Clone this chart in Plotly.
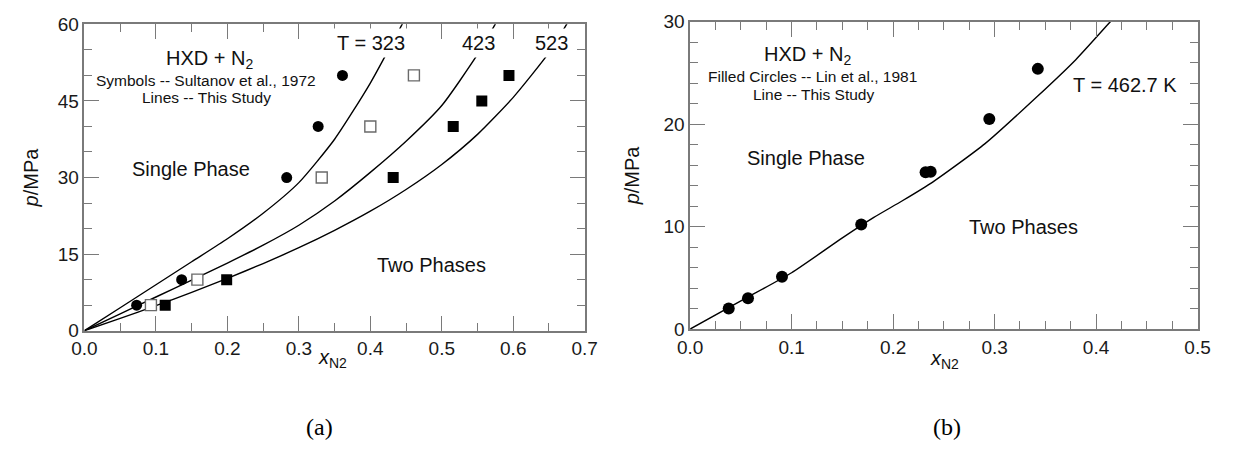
import plotly.graph_objects as go

# ---------------- data: panel (a) ----------------
# experimental points (Sultanov et al., 1972)
a_x323 = [0.073, 0.136, 0.283, 0.327, 0.361]
a_p323 = [5, 10, 30, 40, 50]
a_x423 = [0.093, 0.158, 0.332, 0.400, 0.461]
a_p423 = [5, 10, 30, 40, 50]
a_x523 = [0.113, 0.199, 0.432, 0.516, 0.556, 0.594]
a_p523 = [5, 10, 30, 40, 45, 50]

# model curves (This Study)
c323_x = [0, 0.05, 0.10, 0.15, 0.20, 0.25, 0.30, 0.35, 0.40, 0.45, 0.46]
c323_p = [0, 4.5, 9.0, 13.5, 18.0, 23.0, 29.0, 37.5, 48.5, 61.5, 64.5]
c423_x = [0, 0.05, 0.10, 0.15, 0.20, 0.25, 0.30, 0.35, 0.40, 0.45, 0.50, 0.55, 0.575, 0.59]
c423_p = [0, 3.3, 6.6, 9.9, 13.25, 16.75, 20.65, 25.4, 31.0, 37.1, 44.1, 54.1, 60.1, 64.0]
c523_x = [0, 0.05, 0.10, 0.15, 0.20, 0.25, 0.30, 0.35, 0.40, 0.45, 0.50, 0.55, 0.60, 0.65, 0.675, 0.69]
c523_p = [0, 2.4, 4.9, 7.5, 10.25, 13.15, 16.25, 19.65, 23.4, 27.65, 32.55, 38.45, 45.7, 54.45, 60.1, 64.0]

# ---------------- data: panel (b) ----------------
b_x = [0.038, 0.057, 0.0905, 0.1686, 0.232, 0.237, 0.2948, 0.3426]
b_p = [2.0, 3.0, 5.1, 10.2, 15.3, 15.35, 20.5, 25.4]
cb_x = [0, 0.05, 0.10, 0.15, 0.181, 0.2087, 0.239, 0.2906, 0.342, 0.3800, 0.4158, 0.425]
cb_p = [0, 2.75, 5.5, 8.9, 10.9, 12.5, 14.35, 18.1, 22.7, 26.3, 30.2, 31.2]

FONT = "Liberation Sans, Arial, sans-serif"
AX = "#7a7a7a"

fig = go.Figure()

# panel (a) traces
for cx, cp in [(c323_x, c323_p), (c423_x, c423_p), (c523_x, c523_p)]:
    fig.add_trace(go.Scatter(x=cx, y=cp, mode="lines", line=dict(color="black", width=1.4, shape="spline", smoothing=0.6),
                             xaxis="x", yaxis="y", showlegend=False, hoverinfo="skip"))
fig.add_trace(go.Scatter(x=a_x323, y=a_p323, mode="markers", marker=dict(symbol="circle", size=11, color="black"),
                         xaxis="x", yaxis="y", showlegend=False))
fig.add_trace(go.Scatter(x=a_x423, y=a_p423, mode="markers",
                         marker=dict(symbol="square", size=11, color="white", line=dict(color="#6a6a6a", width=1.4)),
                         xaxis="x", yaxis="y", showlegend=False))
fig.add_trace(go.Scatter(x=a_x523, y=a_p523, mode="markers", marker=dict(symbol="square", size=11, color="black"),
                         xaxis="x", yaxis="y", showlegend=False))

# panel (b) traces
fig.add_trace(go.Scatter(x=cb_x, y=cb_p, mode="lines", line=dict(color="black", width=1.4, shape="spline", smoothing=0.6),
                         xaxis="x2", yaxis="y2", showlegend=False, hoverinfo="skip"))
fig.add_trace(go.Scatter(x=b_x, y=b_p, mode="markers", marker=dict(symbol="circle", size=12, color="black"),
                         xaxis="x2", yaxis="y2", showlegend=False))

W, H = 1236, 470


def px_x(p):
    return p / W


def px_y(p):
    return 1 - p / H


common = dict(showgrid=False, zeroline=False, showline=True, linecolor=AX, linewidth=1.5,
              mirror="ticks", ticks="inside", ticklen=15, tickwidth=1.3, tickcolor=AX,
              tickfont=dict(family=FONT, size=19, color="#1a1a1a"), fixedrange=True)
title_font = dict(family=FONT, size=20, color="#111111")

fig.update_layout(
    width=W, height=H, autosize=False,
    margin=dict(l=0, r=0, t=0, b=0),
    paper_bgcolor="white", plot_bgcolor="white",
    xaxis=dict(common, domain=[px_x(73), px_x(584)], range=[0, 0.7], dtick=0.1, tickformat=".1f",
               minor=dict(dtick=0.05, ticklen=8, ticks="inside", tickcolor=AX, tickwidth=1.3),
               anchor="y"),
    yaxis=dict(common, domain=[px_y(335.7), px_y(15)], range=[0, 60], dtick=15,
               minor=dict(dtick=5, ticklen=8, ticks="inside", tickcolor=AX, tickwidth=1.3),
               anchor="x",
               title=dict(text="<i>p</i>/MPa", font=title_font, standoff=14)),
    xaxis2=dict(common, domain=[px_x(691.7), px_x(1210)], range=[0, 0.5], dtick=0.1, tickformat=".1f",
                minor=dict(dtick=0.025, ticklen=8, ticks="inside", tickcolor=AX, tickwidth=1.3),
                anchor="y2"),
    yaxis2=dict(common, domain=[px_y(334), px_y(12.3)], range=[0, 30], dtick=10,
                minor=dict(dtick=2, ticklen=8, ticks="inside", tickcolor=AX, tickwidth=1.3),
                anchor="x2",
                title=dict(text="<i>p</i>/MPa", font=title_font, standoff=18)),
)

anns = []


def ann(text, x, y, size, xref="x", yref="y", bg=None, **kw):
    d = dict(text=text, x=x, y=y, xref=xref, yref=yref, showarrow=False,
             font=dict(family=FONT, size=size, color="#111111"), xanchor="center", yanchor="middle")
    if bg:
        d.update(bgcolor=bg, borderpad=3)
    d.update(kw)
    anns.append(d)


# panel (a) texts
ann("HXD + N<sub>2</sub>", 0.1753, 53.1, 20)
ann("Symbols -- Sultanov et al., 1972", 0.1705, 49.0, 15.5)
ann("Lines -- This Study", 0.171, 45.6, 15.5)
ann("T = 323", 0.401, 56.3, 20, bg="white")
ann("423", 0.551, 56.3, 20, bg="white")
ann("523", 0.654, 56.3, 20, bg="white")
ann("Single Phase", 0.149, 31.6, 20)
ann("Two Phases", 0.485, 12.9, 20)
ann("<i>x</i><sub>N2</sub>", px_x(326), px_y(365), 20, xref="paper", yref="paper")

# panel (b) texts
ann("HXD + N<sub>2</sub>", 0.1156, 26.75, 20, xref="x2", yref="y2")
ann("Filled Circles -- Lin et al., 1981", 0.1202, 24.7, 15.5, xref="x2", yref="y2")
ann("Line -- This Study", 0.1216, 22.9, 15.5, xref="x2", yref="y2")
ann("Single Phase", 0.1139, 16.7, 20, xref="x2", yref="y2")
ann("T = 462.7 K", 0.4286, 23.86, 20, xref="x2", yref="y2")
ann("Two Phases", 0.3287, 10.0, 20, xref="x2", yref="y2")
ann("<i>x</i><sub>N2</sub>", px_x(951.7), px_y(366), 20, xref="paper", yref="paper")

# panel labels
anns.append(dict(text="(a)", x=px_x(297), y=px_y(452), xref="paper", yref="paper", showarrow=False,
                 font=dict(family="Liberation Serif, Times New Roman, serif", size=24, color="black")))
anns.append(dict(text="(b)", x=px_x(970), y=px_y(452), xref="paper", yref="paper", showarrow=False,
                 font=dict(family="Liberation Serif, Times New Roman, serif", size=24, color="black")))

fig.update_layout(annotations=anns)

fig.write_html("out.html")
